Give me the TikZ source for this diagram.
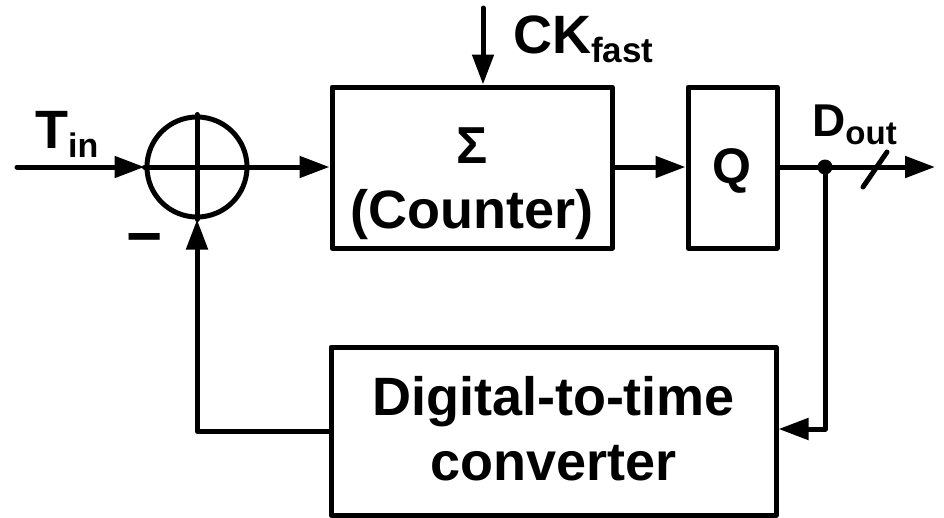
\documentclass[tikz,border=0pt]{standalone}
\usepackage{fontspec}
\setmainfont{Liberation Sans}
\usetikzlibrary{arrows.meta}
\newcommand{\fsz}[1]{\fontsize{#1}{1.2\dimexpr #1pt\relax}\selectfont}
\tikzset{
  wire/.style={line width=5pt, line cap=round, line join=round},
  arr/.style={wire, -{Triangle[length=30pt,width=21pt]}},
  blk/.style={draw, line width=5pt, line join=round, rectangle, inner sep=0pt},
  txt/.style={inner sep=0pt, font=\bfseries},
}
\begin{document}
\begin{tikzpicture}[x=1pt,y=-1pt]
\useasboundingbox (0,0) rectangle (944,517);
% blocks
\node[draw, circle, line width=5pt, minimum size=100pt, inner sep=0pt] (sum) at (197,167) {};
\node[blk, minimum width=280pt, minimum height=161pt] (cnt) at (472,167.5) {};
\node[blk, minimum width=89pt, minimum height=161pt] (q) at (732.5,167.5) {};
\node[blk, minimum width=445pt, minimum height=168pt] (dtc) at (553.5,431) {};
% cross in summer
\draw[wire] (sum.north) -- (sum.south);
\draw[wire] (sum.west) -- (sum.east);
% texts
\node[txt, anchor=base] (sig) at (472,163) {\fsz{52}Σ};
\node[txt, anchor=base] (ctr) at (472,228) {\fsz{54}(Counter)};
\node[txt, anchor=base] (qt) at (732,183) {\fsz{50}Q};
\node[txt, anchor=base] (dt1) at (553.5,415) {\fsz{54}Digital-to-time};
\node[txt, anchor=base] (dt2) at (553.5,480) {\fsz{54}converter};
\node[txt, anchor=base west] (ck) at (513,53) {\fsz{54}CK\raisebox{-9pt}{\fsz{35}fast}};
\node[txt, anchor=base west] (tin) at (35,148) {\fsz{54}T\raisebox{-9pt}{\fsz{34}in}};
\node[txt, anchor=base west] (dout) at (812,136) {\fsz{46}D\raisebox{-8pt}{\fsz{33}out}};
\node[txt, anchor=base] (minus) at (145,257) {\fsz{62}−};
% coordinates
\coordinate (tinstart) at (17,167);
\coordinate (ckstart) at (483,8);
\coordinate (dot) at (825,167);
\coordinate (outend) at (935,167);
\coordinate (fb) at (825,429);
\coordinate (fbl) at (197,431);
\coordinate (sl1) at (863,187);
\coordinate (sl2) at (887,152);
% connectors
\draw[arr] (tinstart) -- (sum.west);
\draw[arr] (sum.east) -- (cnt.west |- sum.east);
\draw[arr] (ckstart) -- (ckstart |- cnt.north);
\draw[arr] (cnt.east |- sum.east) -- (q.west |- sum.east);
\draw[arr] (q.east |- dot) -- (outend);
\draw[wire] (sl1) -- (sl2);
\fill (dot) circle (7.5pt);
\draw[arr] (dot) -- (fb) -- (dtc.east |- fb);
\draw[arr] (dtc.west) -- (fbl) -- (sum.south);
\end{tikzpicture}
\end{document}
